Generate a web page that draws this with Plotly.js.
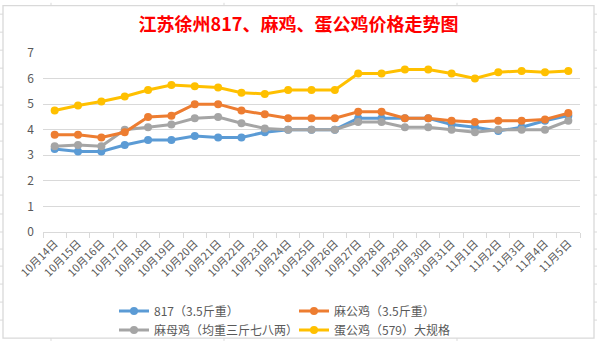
<!DOCTYPE html>
<html>
<head>
<meta charset="utf-8">
<script src="https://cdn.plot.ly/plotly-3.0.1.min.js"></script>
<style>html,body{margin:0;padding:0;background:#fff;}#chart{width:597px;height:357px;}</style>
</head>
<body>
<div id="chart"></div>
<script>
const categories = ["10月14日","10月15日","10月16日","10月17日","10月18日","10月19日","10月20日","10月21日","10月22日","10月23日","10月24日","10月25日","10月26日","10月27日","10月28日","10月29日","10月30日","10月31日","11月1日","11月2日","11月3日","11月4日","11月5日"];
const s817 = [3.25,3.15,3.15,3.4,3.6,3.6,3.75,3.7,3.7,3.9,4.0,4.0,4.0,4.45,4.45,4.45,4.45,4.2,4.1,3.95,4.1,4.35,4.55];
const maGongJi = [3.8,3.8,3.7,3.9,4.5,4.55,5.0,5.0,4.75,4.6,4.45,4.45,4.45,4.7,4.7,4.45,4.45,4.35,4.3,4.35,4.35,4.4,4.65];
const maMuJi = [3.35,3.4,3.35,4.0,4.1,4.2,4.45,4.5,4.25,4.05,4.0,4.0,4.0,4.3,4.3,4.1,4.1,4.0,3.9,4.0,4.0,4.0,4.35];
const danGongJi = [4.75,4.95,5.1,5.3,5.55,5.75,5.7,5.65,5.45,5.4,5.55,5.55,5.55,6.2,6.2,6.35,6.35,6.2,6.0,6.25,6.3,6.25,6.3];
const seriesNames = ["817（3.5斤重）","麻公鸡（3.5斤重）","麻母鸡（均重三斤七八两）","蛋公鸡（579）大规格"];
const yTicks = [0,1,2,3,4,5,6,7];

const W = 597, H = 357;
const L = 43, R = 17, T = 53, B = 115;
const pw = W - L - R, ph = H - T - B;
const px = x => (x - L) / pw;
const py = y => (H - B - y) / ph;

const font = "'Noto Sans CJK SC', 'Microsoft YaHei', sans-serif";
const colors = ["#5B9BD5","#ED7D31","#A5A5A5","#FFC000"];
const legends = ["legend","legend2","legend","legend2"];
const vals = [s817, maGongJi, maMuJi, danGongJi];

const order = [0,2,1,3];
const traces = order.map(i => ({
  type: "scatter", mode: "lines+markers",
  x: categories, y: vals[i], name: seriesNames[i],
  line: {color: colors[i], width: 3},
  marker: {color: colors[i], size: 8},
  legend: legends[i]
}));

// spreadsheet frame and cell stubs (decorative)
const shapes = [];
const lc = "#D9D9D9";
shapes.push({type:"rect", xref:"paper", yref:"paper", x0:px(3), x1:px(594), y0:py(3), y1:py(354), line:{color:lc, width:1.3}});
const rows = [12,31,50,69,89,108,128,146,165,184,203,223,242,260,278,297,316,335];
rows.forEach(r => {
  shapes.push({type:"line", xref:"paper", yref:"paper", x0:px(0), x1:px(3), y0:py(r), y1:py(r), line:{color:lc, width:1}});
  shapes.push({type:"line", xref:"paper", yref:"paper", x0:px(594), x1:px(597), y0:py(r), y1:py(r), line:{color:lc, width:1}});
});
[51,224,457].forEach(c => {
  shapes.push({type:"line", xref:"paper", yref:"paper", x0:px(c), x1:px(c), y0:py(0), y1:py(3), line:{color:lc, width:1}});
  shapes.push({type:"line", xref:"paper", yref:"paper", x0:px(c), x1:px(c), y0:py(354), y1:py(357), line:{color:lc, width:1}});
});

const legendBase = {
  orientation: "v", xanchor: "left", yanchor: "top",
  font: {family: font, size: 12, color: "#595959"},
  bgcolor: "rgba(0,0,0,0)", tracegroupgap: 0, itemwidth: 30
};

const layout = {
  width: W, height: H,
  margin: {l: L, r: R, t: T, b: B, pad: 0},
  paper_bgcolor: "#fff", plot_bgcolor: "#fff",
  title: {text: "江苏徐州817、麻鸡、蛋公鸡价格走势图", font: {family: font, size: 18, color: "#FF0000", weight: "bold"}, x: 0.5, xref: "container", y: 1 - 25/H, yref: "container", yanchor: "middle", xanchor: "center"},
  xaxis: {
    type: "category", tickangle: -45, tickson: "boundaries",
    ticks: "outside", ticklen: 5, tickcolor: lc, tickwidth: 1,
    showline: true, linecolor: lc, linewidth: 1,
    showgrid: false, zeroline: false,
    tickfont: {family: font, size: 11, color: "#595959"},
    range: [-0.5, categories.length - 0.5], fixedrange: true
  },
  yaxis: {
    range: [0, 7], tickvals: yTicks, ticktext: yTicks.map(String),
    showgrid: true, gridcolor: lc, gridwidth: 1, zeroline: false, showline: false,
    ticks: "", ticklabelstandoff: 8,
    tickfont: {family: font, size: 12, color: "#595959"}, fixedrange: true
  },
  showlegend: true,
  legend: Object.assign({}, legendBase, {x: px(114), y: py(310)}),
  legend2: Object.assign({}, legendBase, {x: px(294), y: py(310)}),
  shapes: shapes
};

Plotly.newPlot("chart", traces, layout, {displayModeBar: false, staticPlot: true});
</script>
</body>
</html>
